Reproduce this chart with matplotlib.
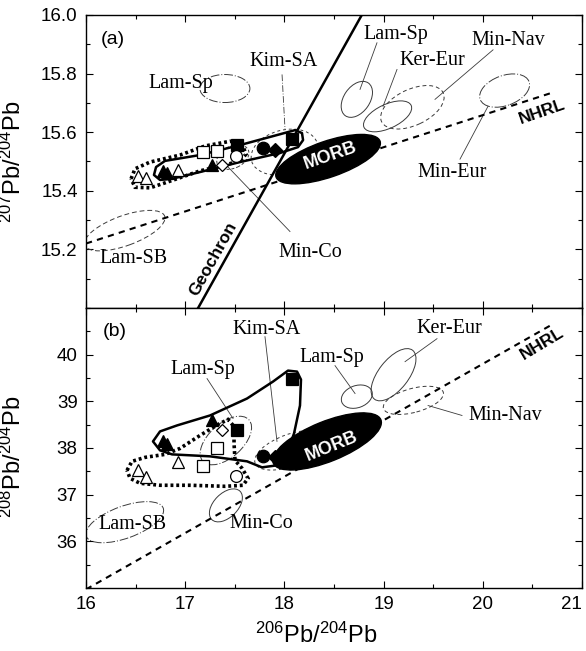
import matplotlib
matplotlib.use('Agg')
import matplotlib.pyplot as plt
import matplotlib.transforms as mtransforms
from matplotlib.patches import Ellipse, Polygon
from matplotlib.ticker import MultipleLocator

plt.rcParams['font.family'] = ['Liberation Sans', 'DejaVu Sans']
plt.rcParams['mathtext.default'] = 'regular'
SERIF = 'Liberation Serif'

# --- samples: x = 206Pb/204Pb, a = 207Pb/204Pb, b = 208Pb/204Pb ---
open_tri_x = [16.52, 16.60, 16.93]
open_tri_a = [15.451, 15.444, 15.471]
open_tri_b = [37.52, 37.37, 37.69]

fill_tri_x = [16.78, 16.82, 17.27]
fill_tri_a = [15.468, 15.461, 15.488]
fill_tri_b = [38.14, 38.08, 38.59]

open_sq_x = [17.18, 17.32]
open_sq_a = [15.532, 15.536]
open_sq_b = [37.61, 37.99]

open_dia_x = [17.37]
open_dia_a = [15.488]
open_dia_b = [38.38]

open_circ_x = [17.51]
open_circ_a = [15.519]
open_circ_b = [37.39]

fill_sq_x = [17.52, 18.08]
fill_sq_a = [15.556, 15.576]
fill_sq_b = [38.38, 39.47]

fill_circ_x = [17.78]
fill_circ_a = [15.547]
fill_circ_b = [37.82]

fill_dia_x = [17.90]
fill_dia_a = [15.540]
fill_dia_b = [37.80]

# --- sample group outlines (hand drawn fields) ---
solid_a_x = [16.706, 16.796, 17.149, 17.552, 17.956, 18.107, 18.177, 18.188, 18.137,
             17.956, 17.552, 17.149, 16.867, 16.746, 16.685]
solid_a_y = [15.481, 15.502, 15.522, 15.556, 15.593, 15.607, 15.597, 15.573, 15.549,
             15.529, 15.498, 15.464, 15.441, 15.437, 15.454]
dotted_a_x = [16.454, 16.494, 16.645, 16.948, 17.200, 17.452, 17.573, 17.613, 17.552,
              17.401, 17.149, 16.796, 16.645, 16.494]
dotted_a_y = [15.441, 15.475, 15.498, 15.522, 15.553, 15.569, 15.559, 15.525, 15.502,
              15.488, 15.468, 15.427, 15.410, 15.412]
solid_b_x = [16.675, 16.746, 16.917, 17.250, 17.623, 17.885, 18.036, 18.127, 18.167,
             18.157, 18.097, 18.016, 17.925, 17.774, 17.623, 17.250, 16.867, 16.746]
solid_b_y = [38.141, 38.355, 38.483, 38.697, 39.060, 39.423, 39.658, 39.637, 39.466,
             38.910, 38.312, 37.842, 37.628, 37.585, 37.714, 37.821, 37.863, 37.949]
dotted_b_x = [16.413, 16.464, 16.595, 16.796, 16.948, 17.149, 17.331, 17.431, 17.492,
              17.492, 17.502, 17.573, 17.633, 17.583, 17.401, 17.048, 16.746, 16.544, 16.444]
dotted_b_y = [37.521, 37.714, 37.799, 37.863, 37.991, 38.269, 38.504, 38.611, 38.462,
              38.098, 37.735, 37.564, 37.350, 37.201, 37.179, 37.201, 37.201, 37.244, 37.350]

# --- literature fields (centres) ---
fields_a_x = [17.40, 18.00, 17.48, 16.39, 18.73, 19.04, 19.29, 20.22]
fields_a_y = [15.749, 15.532, 15.515, 15.264, 15.712, 15.654, 15.685, 15.742]
fields_b_x = [17.41, 18.06, 17.41, 16.39, 18.73, 19.10, 19.30]
fields_b_y = [38.16, 37.95, 36.77, 36.41, 39.10, 39.57, 39.02]
morb_x = [18.44, 18.43]
morb_y = [15.508, 38.14]

# --- reference lines ---
geochron_x = [17.13, 18.78]
geochron_y = [15.0, 16.0]
nhrl_x = [16.0, 20.71]
nhrl_a = [15.22, 15.736]
nhrl_b = [34.97, 40.66]

# --- labels and leader lines ---
labels_a = ['Lam-Sp', 'Kim-SA', 'Lam-Sp', 'Ker-Eur', 'Min-Nav', 'Min-Eur', 'Min-Co', 'Lam-SB']
labels_a_x = [16.96, 17.99, 19.12, 19.49, 20.26, 19.69, 18.26, 16.48]
labels_a_y = [15.766, 15.841, 15.932, 15.844, 15.912, 15.461, 15.190, 15.169]
leaders_a = [((18.933, 15.905), (18.762, 15.746)),
             ((19.135, 15.814), (18.994, 15.688)),
             ((20.103, 15.881), (19.518, 15.712)),
             ((19.770, 15.508), (20.052, 15.688)),
             ((17.421, 15.485), (18.056, 15.261))]
kim_leader_a = ((17.976, 15.797), (18.006, 15.610))

labels_b = ['Kim-SA', 'Lam-Sp', 'Lam-Sp', 'Ker-Eur', 'Min-Nav', 'Min-Co', 'Lam-SB']
labels_b_x = [17.82, 17.18, 18.48, 19.66, 20.23, 17.77, 16.47]
labels_b_y = [40.53, 39.68, 39.94, 40.56, 38.70, 36.39, 36.37]
leaders_b = [((17.220, 39.487), (17.482, 38.632)),
             ((17.804, 40.385), (17.925, 38.141)),
             ((18.510, 39.765), (18.712, 39.167)),
             ((19.538, 40.342), (19.216, 39.850)),
             ((19.790, 38.697), (19.448, 38.910))]

x_ticks = [16, 17, 18, 19, 20, 21]

fig = plt.figure(figsize=(5.86, 6.51), dpi=100)
ax_a = fig.add_axes([0.1468, 0.5269, 0.8464, 0.4501])
ax_b = fig.add_axes([0.1468, 0.0968, 0.8464, 0.4301])

GREY = '#3a3a3a'


def add_ellipse(ax, x, y, w, h, ang, **kw):
    """Ellipse with size in inches centred on a data point"""
    tr = fig.dpi_scale_trans + mtransforms.ScaledTranslation(x, y, ax.transData)
    e = Ellipse((0, 0), w, h, angle=ang, transform=tr, **kw)
    ax.add_patch(e)
    return e


def draw_samples(ax, ys):
    # (x, y, marker, face, size)
    groups = [
        (fill_tri_x, ys[1], '^', 'black', 9),
        (fill_sq_x, ys[5], 's', 'black', 8),
        (fill_circ_x, ys[6], 'o', 'black', 9),
        (fill_dia_x, ys[7], 'D', 'black', 7),
        (open_tri_x, ys[0], '^', 'white', 8.5),
        (open_sq_x, ys[2], 's', 'white', 8),
        (open_dia_x, ys[3], 'D', 'white', 6.5),
        (open_circ_x, ys[4], 'o', 'white', 8.5),
    ]
    for x, y, m, fc, ms in groups:
        ax.plot(x, y, linestyle='none', marker=m, ms=ms, mfc=fc, mec='black',
                mew=0.9, zorder=6)


def style_axes(ax, ymin, ymax, ymajor, yminor):
    ax.set_xlim(16, 21)
    ax.set_ylim(ymin, ymax)
    ax.set_xticks(x_ticks, labels=[str(t) for t in x_ticks])
    ax.xaxis.set_minor_locator(MultipleLocator(0.5))
    ax.yaxis.set_major_locator(MultipleLocator(ymajor))
    ax.yaxis.set_minor_locator(MultipleLocator(yminor))
    ax.tick_params(which='both', direction='in', top=True, right=True, width=0.8)
    ax.tick_params(which='major', length=5, labelsize=13.5, pad=6)
    ax.tick_params(which='minor', length=3)
    for s in ax.spines.values():
        s.set_linewidth(1.0)


# ================= panel (a) =================
ax = ax_a
style_axes(ax, 15.0, 16.0, 0.2, 0.1)
ax.set_yticks([15.2, 15.4, 15.6, 15.8, 16.0])
ax.tick_params(labelbottom=False)

shapes_a = [  # w, h (inch), angle, linestyle
    (0.50, 0.28, 0, (0, (9, 2, 1, 2))),
    (0.68, 0.44, 15, (0, (3, 3))),
    (0.34, 0.22, 25, (0, (3, 2))),
    (0.85, 0.30, 20, (0, (5, 3))),
    (0.40, 0.26, 55, '-'),
    (0.52, 0.24, 25, '-'),
    (0.68, 0.36, 25, (0, (4, 3))),
    (0.52, 0.30, 20, (0, (12, 2, 1, 2))),
]
for x, y, (w, h, ang, ls) in zip(fields_a_x, fields_a_y, shapes_a):
    add_ellipse(ax, x, y, w, h, ang, fill=False, ec=GREY, lw=0.7, ls=ls, zorder=2)

for (x0, y0), (x1, y1) in leaders_a:
    ax.plot([x0, x1], [y0, y1], color=GREY, lw=0.6, zorder=2)
ax.plot([kim_leader_a[0][0], kim_leader_a[1][0]], [kim_leader_a[0][1], kim_leader_a[1][1]],
        color=GREY, lw=0.6, ls=(0, (8, 2, 1, 2)), zorder=2)

ax.plot(nhrl_x, nhrl_a, color='black', lw=1.5, ls=(0, (3, 2.5)), zorder=3)
ax.plot(geochron_x, geochron_y, color='black', lw=1.8, zorder=4)
add_ellipse(ax, morb_x[0], morb_y[0], 1.10, 0.36, 19, fc='black', ec='black', zorder=4)

ax.add_patch(Polygon(list(zip(solid_a_x, solid_a_y)), closed=True, fill=False,
                     ec='black', lw=1.8, joinstyle='round', zorder=5))
ax.add_patch(Polygon(list(zip(dotted_a_x, dotted_a_y)), closed=True, fill=False,
                     ec='black', lw=2.6, ls=(0, (0.8, 0.8)), zorder=5))

draw_samples(ax, [open_tri_a, fill_tri_a, open_sq_a, open_dia_a, open_circ_a,
                  fill_sq_a, fill_circ_a, fill_dia_a])

for s, x, y in zip(labels_a, labels_a_x, labels_a_y):
    ax.text(x, y, s, ha='center', va='center', family=SERIF, fontsize=14.5, zorder=7)
ax.text(16.27, 15.915, '(a)', ha='center', va='center', fontsize=14)
ax.text(18.46, 15.519, 'MORB', color='white', fontweight='bold', fontsize=13,
        rotation=19, rotation_mode='anchor', ha='center', va='center', zorder=7)
ax.text(20.60, 15.668, 'NHRL', fontweight='bold', fontsize=12.5,
        rotation=19, rotation_mode='anchor', ha='center', va='center', zorder=7)
ax.text(17.28, 15.169, 'Geochron', fontweight='bold', fontsize=12.5,
        rotation=61, rotation_mode='anchor', ha='center', va='center', zorder=7)
ax.set_ylabel('$^{207}$Pb/$^{204}$Pb', fontsize=17)
ax.yaxis.set_label_coords(-0.122, 0.5)

# ================= panel (b) =================
ax = ax_b
style_axes(ax, 35, 41, 1, 0.5)
ax.set_yticks([36, 37, 38, 39, 40])
# last x label sits inside the figure edge, as in the original
ax.get_xticklabels()[-1].set_horizontalalignment('right')

shapes_b = [
    (0.62, 0.34, 42, (0, (9, 2, 1, 2))),
    (0.75, 0.32, 20, (0, (3, 3))),
    (0.40, 0.24, 45, '-'),
    (0.82, 0.32, 20, (0, (9, 2, 1, 2))),
    (0.32, 0.22, 20, '-'),
    (0.62, 0.30, 52, '-'),
    (0.62, 0.24, 15, (0, (4, 3))),
]
for x, y, (w, h, ang, ls) in zip(fields_b_x, fields_b_y, shapes_b):
    add_ellipse(ax, x, y, w, h, ang, fill=False, ec=GREY, lw=0.7, ls=ls, zorder=2)

for (x0, y0), (x1, y1) in leaders_b:
    ax.plot([x0, x1], [y0, y1], color=GREY, lw=0.6, zorder=2)

ax.plot(nhrl_x, nhrl_b, color='black', lw=1.5, ls=(0, (3, 2.5)), zorder=3)
add_ellipse(ax, morb_x[1], morb_y[1], 1.16, 0.40, 22, fc='black', ec='black', zorder=4)

ax.add_patch(Polygon(list(zip(solid_b_x, solid_b_y)), closed=True, fill=False,
                     ec='black', lw=1.8, joinstyle='round', zorder=5))
ax.add_patch(Polygon(list(zip(dotted_b_x, dotted_b_y)), closed=True, fill=False,
                     ec='black', lw=2.6, ls=(0, (0.8, 0.8)), zorder=5))

draw_samples(ax, [open_tri_b, fill_tri_b, open_sq_b, open_dia_b, open_circ_b,
                  fill_sq_b, fill_circ_b, fill_dia_b])

for s, x, y in zip(labels_b, labels_b_x, labels_b_y):
    ax.text(x, y, s, ha='center', va='center', family=SERIF, fontsize=14.5, zorder=7)
ax.text(16.29, 40.49, '(b)', ha='center', va='center', fontsize=14)
ax.text(18.48, 38.03, 'MORB', color='white', fontweight='bold', fontsize=13,
        rotation=22, rotation_mode='anchor', ha='center', va='center', zorder=7)
ax.text(20.60, 40.24, 'NHRL', fontweight='bold', fontsize=12.5,
        rotation=31, rotation_mode='anchor', ha='center', va='center', zorder=7)
ax.set_ylabel('$^{208}$Pb/$^{204}$Pb', fontsize=17)
ax.yaxis.set_label_coords(-0.122, 0.47)
ax.set_xlabel('$^{206}$Pb/$^{204}$Pb', fontsize=17)
ax.xaxis.set_label_coords(0.464, -0.125)

fig.savefig('out.png', dpi=100)
plt.close(fig)
